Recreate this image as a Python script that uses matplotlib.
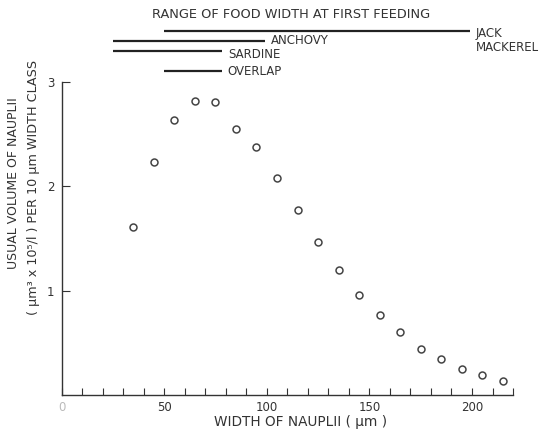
import numpy as np
import matplotlib
matplotlib.use("Agg")
import matplotlib.pyplot as plt
import matplotlib.transforms as mtransforms

# nauplii width classes (um) and usual volume (um^3 x 10^5 / l)
width = [35, 45, 55, 65, 75, 85, 95, 105, 115, 125,
         135, 145, 155, 165, 175, 185, 195, 205, 215]
volume = [1.61, 2.23, 2.64, 2.82, 2.81, 2.55, 2.38, 2.08, 1.77, 1.47,
          1.20, 0.96, 0.77, 0.60, 0.44, 0.345, 0.25, 0.19, 0.137]

# range of food width at first feeding (um)
species = ["JACK\nMACKEREL", "ANCHOVY", "SARDINE", "OVERLAP"]
range_lo = [50, 25, 25, 50]
range_hi = [199, 99, 78, 78]

ink = "#333333"
plt.rcParams["font.family"] = ["DejaVu Sans"]

fig = plt.figure(figsize=(5.43, 4.33), dpi=100)
ax = fig.add_axes([0.1133, 0.0878, 0.8315, 0.7229])

ax.plot(width, volume, linestyle="none", marker="o", markersize=5,
        markerfacecolor="white", markeredgecolor="#444444", markeredgewidth=1.1)

ax.set_xlim(0, 220)
ax.set_ylim(0, 3)
for s in ["top", "right"]:
    ax.spines[s].set_visible(False)
for s in ["left", "bottom"]:
    ax.spines[s].set_color(ink)
    ax.spines[s].set_linewidth(1.0)

ax.set_xticks(np.arange(0, 221, 50))
ax.set_xticks(np.arange(0, 221, 10), minor=True)
ax.set_yticks([1, 2, 3])
ax.tick_params(axis="x", which="both", direction="in", length=5, width=0.8,
               colors=ink, labelsize=8.5, pad=4)
ax.tick_params(axis="y", which="both", direction="in", length=6, width=0.8,
               colors=ink, labelsize=8.5, pad=5)
ax.set_xticklabels(["0", "50", "100", "150", "200"])
ax.get_xticklabels()[0].set_color("#bbbbbb")

fig.text(0.553, 0.025, "WIDTH OF NAUPLII ( \u00b5m )", ha="center", va="center",
         fontsize=9.8, color=ink)
fig.text(0.024, 0.577, "USUAL VOLUME OF NAUPLII", rotation=90, ha="center",
         va="center", fontsize=9.0, color=ink)
fig.text(0.061, 0.566, "( \u00b5m\u00b3 x 10\u2075/l ) PER 10 \u00b5m WIDTH CLASS",
         rotation=90, ha="center", va="center", fontsize=9.2, color=ink)

# range bars above the plot: x in data units, y in axes units
trans = mtransforms.blended_transform_factory(ax.transData, ax.transAxes)
bar_y = [1.163, 1.131, 1.099, 1.035]
label_dy = [0.0, 0.0, -0.01, 0.0]
for name, lo, hi, yy, dy in zip(species, range_lo, range_hi, bar_y, label_dy):
    ax.plot([lo, hi], [yy, yy], color="#222222", linewidth=1.6,
            transform=trans, clip_on=False, solid_capstyle="butt")
    va = "top" if "\n" in name else "center"
    ty = yy + 0.012 if "\n" in name else yy + dy
    ax.text(hi + 3, ty, name, transform=trans, ha="left", va=va,
            fontsize=8.5, color=ink, linespacing=1.1)

ax.text(112, 1.214, "RANGE OF FOOD WIDTH AT FIRST FEEDING", transform=trans,
        ha="center", va="center", fontsize=9.3, color=ink)

fig.savefig("out.png", dpi=100)
